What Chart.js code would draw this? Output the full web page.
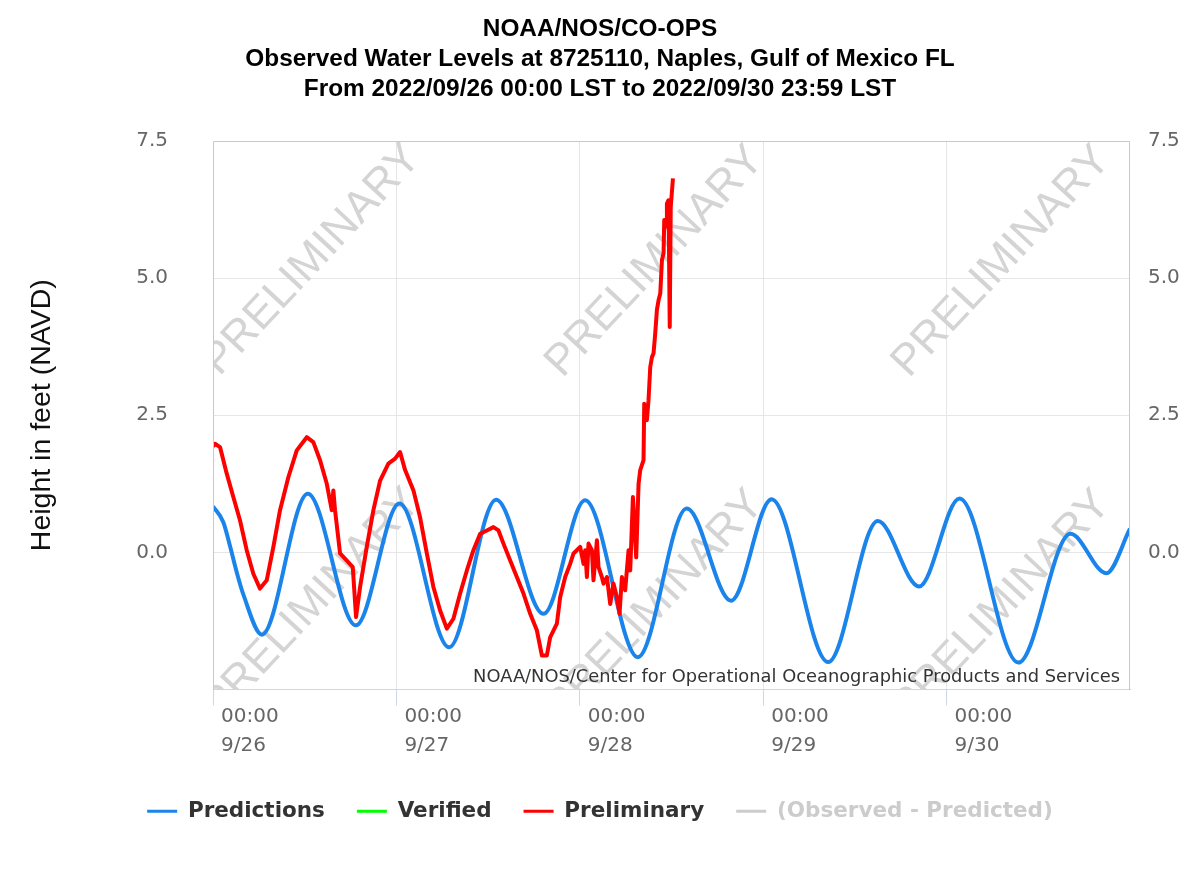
<!DOCTYPE html>
<html><head><meta charset="utf-8">
<script src="https://cdn.jsdelivr.net/npm/chart.js@4.4.1/dist/chart.umd.min.js"></script>
<style>html,body{margin:0;padding:0;background:#fff;}#wrap{width:1200px;height:874px;}</style>
</head><body><div id="wrap"><canvas id="c" width="1200" height="874"></canvas></div>
<script>
const titleLines = ['NOAA/NOS/CO-OPS', 'Observed Water Levels at 8725110, Naples, Gulf of Mexico FL', 'From 2022/09/26 00:00 LST to 2022/09/30 23:59 LST'];
const seriesNames = ['Predictions', 'Verified', 'Preliminary', '(Observed - Predicted)'];
const dayTickHours = [0, 24, 48, 72, 96];
const dayTickLabels = [['00:00', '9/26'], ['00:00', '9/27'], ['00:00', '9/28'], ['00:00', '9/29'], ['00:00', '9/30']];
const yTickValues = [-2.5, 0, 2.5, 5, 7.5];
const creditText = 'NOAA/NOS/Center for Operational Oceanographic Products and Services';
const watermarkText = 'PRELIMINARY';

// hours since 2022/09/26 00:00 LST
const predHours = [0, 1.35, 2.2, 3.1, 4.0, 6.4, 12.4, 18.7, 24.4, 30.9, 37.05, 43.25, 48.7, 55.6, 62.0, 67.8, 73.1, 80.5, 87.0, 92.4, 97.7, 105.4, 112.2, 116.9, 120];
const predValues = [0.84, 0.55, 0.13, -0.36, -0.78, -1.50, 1.07, -1.33, 0.89, -1.73, 0.96, -1.12, 0.95, -1.91, 0.80, -0.88, 0.97, -2.00, 0.57, -0.62, 0.98, -2.01, 0.34, -0.38, 0.43];

const prelimHours = [0, 0.26, 0.92, 1.79, 2.66, 3.54, 4.41, 5.28, 6.15, 7.03,
  7.9, 8.77, 9.86, 10.96, 12.27, 13.13, 14.01, 14.89, 15.54, 15.75,
  15.97, 16.63, 17.51, 18.29, 18.72, 19.25, 20.12, 20.99, 21.87, 22.95,
  23.83, 24.48, 25.14, 26.23, 27.1, 27.98, 28.84, 29.72, 30.6, 31.46,
  32.34, 33.22, 34.08, 34.96, 35.84, 36.7, 37.36, 38.01, 38.89, 39.76,
  40.63, 41.51, 42.38, 43.04, 43.69, 44.12, 45.0, 45.43, 46.09, 46.74,
  47.18, 48.05, 48.49, 48.71, 48.93, 49.14, 49.58, 49.79, 50.24, 50.45,
  50.89, 51.1, 51.55, 51.98, 52.41, 52.86, 53.2, 53.51, 53.94, 54.38,
  54.6, 54.95, 55.38, 55.69, 55.91, 56.34, 56.43, 56.78, 56.99, 57.22,
  57.44, 57.65, 57.87, 58.09, 58.31, 58.53, 58.75, 58.96, 59.05, 59.31,
  59.4, 59.61, 59.77, 59.9, 60.19];
const prelimValues = [1.93, 1.98, 1.92, 1.44, 1.01, 0.58, 0.04, -0.39, -0.66, -0.51,
  0.10, 0.77, 1.37, 1.86, 2.10, 2.01, 1.68, 1.25, 0.77, 1.13,
  0.77, -0.02, -0.15, -0.27, -1.18, -0.63, 0.10, 0.77, 1.31, 1.62,
  1.71, 1.83, 1.50, 1.13, 0.64, -0.02, -0.63, -1.06, -1.39, -1.21,
  -0.75, -0.33, 0.04, 0.34, 0.40, 0.46, 0.40, 0.16, -0.15, -0.45,
  -0.75, -1.12, -1.42, -1.88, -1.88, -1.55, -1.30, -0.82, -0.45, -0.21,
  -0.02, 0.10, -0.21, 0.04, -0.45, 0.16, 0.04, -0.51, 0.22, -0.27,
  -0.45, -0.57, -0.45, -0.94, -0.57, -0.82, -1.12, -0.45, -0.69, 0.04,
  -0.33, 1.01, -0.09, 1.25, 1.50, 1.68, 2.71, 2.41, 2.77, 3.38,
  3.56, 3.63, 3.99, 4.42, 4.60, 4.72, 5.33, 5.45, 6.06, 5.94,
  6.36, 6.42, 4.11, 6.30, 6.82];

const verifiedHours = [];
const verifiedValues = [];
const diffHours = [];
const diffValues = [];

const toXY = (xs, ys) => xs.map((x, i) => ({x: x, y: ys[i]}));
const seriesColors = ['#1b84ea', '#00ff00', '#ff0000', '#cccccc'];

const wmPos = [[0.108, 0.217], [0.482, 0.22], [0.86, 0.22], [0.108, 0.845], [0.482, 0.848], [0.86, 0.848]];

const decorPlugin = {
  id: 'decor',
  beforeDatasetsDraw(chart) {
    const {ctx, chartArea: a} = chart;
    ctx.save();
    ctx.beginPath();
    ctx.rect(a.left, a.top, a.right - a.left, a.bottom - a.top);
    ctx.clip();
    ctx.font = '44px "Liberation Sans", Arial, sans-serif';
    ctx.fillStyle = '#d4d4d4';
    ctx.textAlign = 'center';
    ctx.textBaseline = 'middle';
    for (const [fx, fy] of wmPos) {
      ctx.save();
      ctx.translate(a.left + fx * (a.right - a.left), a.top + fy * (a.bottom - a.top));
      ctx.rotate(-47 * Math.PI / 180);
      ctx.fillText(watermarkText, 0, 0);
      ctx.restore();
    }
    ctx.restore();
  },
  afterDatasetsDraw(chart) {
    const {ctx, chartArea: a} = chart;
    ctx.save();
    ctx.font = '16px "DejaVu Sans", sans-serif';
    const w = ctx.measureText(creditText).width;
    const size = 16 * 647 / w;
    ctx.font = size.toFixed(2) + 'px "DejaVu Sans", sans-serif';
    ctx.fillStyle = '#333333';
    ctx.textAlign = 'right';
    ctx.textBaseline = 'middle';
    ctx.fillText(creditText, a.right - 10, a.bottom - 12);
    ctx.strokeStyle = '#c8c8c8';
    ctx.lineWidth = 1;
    ctx.beginPath();
    ctx.moveTo(Math.round(a.left) + 0.5, Math.round(a.bottom));
    ctx.lineTo(Math.round(a.left) + 0.5, Math.round(a.top) + 0.5);
    ctx.lineTo(Math.round(a.right) - 0.5, Math.round(a.top) + 0.5);
    ctx.lineTo(Math.round(a.right) - 0.5, Math.round(a.bottom));
    ctx.stroke();
    ctx.restore();
  }
};

const tickFont = {family: '"DejaVu Sans", sans-serif', size: 20};

new Chart(document.getElementById('c'), {
  type: 'line',
  data: {
    datasets: [
      {label: seriesNames[0], data: toXY(predHours, predValues), borderColor: seriesColors[0], backgroundColor: seriesColors[0], borderWidth: 4, pointRadius: 0, cubicInterpolationMode: 'monotone', order: 2},
      {label: seriesNames[1], data: toXY(verifiedHours, verifiedValues), borderColor: seriesColors[1], backgroundColor: seriesColors[1], borderWidth: 3, pointRadius: 0, order: 1},
      {label: seriesNames[2], data: toXY(prelimHours, prelimValues), borderColor: seriesColors[2], backgroundColor: seriesColors[2], borderWidth: 4, pointRadius: 0, tension: 0, borderJoinStyle: 'round', order: 0},
      {label: seriesNames[3], data: toXY(diffHours, diffValues), borderColor: seriesColors[3], backgroundColor: seriesColors[3], borderWidth: 3, pointRadius: 0, order: 3}
    ]
  },
  options: {
    responsive: false,
    animation: false,
    devicePixelRatio: 1,
    layout: {padding: {top: 0, left: 0, right: 0, bottom: 42}},
    scales: {
      x: {
        type: 'linear', min: 0, max: 120,
        afterBuildTicks: s => { s.ticks = dayTickHours.map(v => ({value: v})); },
        afterFit: s => { s.height = 79; },
        ticks: {
          autoSkip: false, maxRotation: 0, minRotation: 0, align: 'start', labelOffset: 8, padding: -3,
          color: '#666666', font: {family: '"DejaVu Sans", sans-serif', size: 20, lineHeight: 1.45},
          callback: v => { const i = dayTickHours.indexOf(v); return i >= 0 ? dayTickLabels[i] : ''; }
        },
        grid: {color: '#e6e6e6', tickColor: '#ccd6eb', tickLength: 16},
        border: {color: '#ccd6eb', width: 1}
      },
      y: {
        position: 'left', min: -2.5, max: 7.5,
        afterBuildTicks: s => { s.ticks = yTickValues.map(v => ({value: v})); },
        afterFit: s => { s.width = 213; },
        ticks: {padding: 45, color: '#666666', font: tickFont, callback: v => v < 0 ? '' : v.toFixed(1)},
        grid: {color: '#e6e6e6', drawTicks: false},
        border: {display: false},
        title: {display: true, text: 'Height in feet (NAVD)', color: '#111111', font: {family: '"Liberation Sans", Arial, sans-serif', size: 28.5}, padding: {top: 25, bottom: 0}}
      },
      y2: {
        position: 'right', min: -2.5, max: 7.5,
        afterBuildTicks: s => { s.ticks = yTickValues.map(v => ({value: v})); },
        afterFit: s => { s.width = 70; },
        ticks: {padding: 18, color: '#666666', font: tickFont, callback: v => v < 0 ? '' : v.toFixed(1)},
        grid: {display: false, drawTicks: false},
        border: {display: false}
      }
    },
    plugins: {
      title: {
        display: true, text: titleLines, color: '#000000',
        font: {family: '"Liberation Sans", Arial, sans-serif', size: 24.4, weight: 'bold', lineHeight: 30 / 24.4},
        padding: {top: 14, bottom: 37}
      },
      legend: {
        position: 'bottom',
        labels: {
          boxWidth: 30, boxHeight: 3, padding: 32,
          font: {family: '"DejaVu Sans", sans-serif', size: 21.5, weight: 'bold'},
          color: '#333333',
          generateLabels: chart => chart.data.datasets.map((ds, i) => ({
            text: ds.label, fillStyle: ds.borderColor, strokeStyle: ds.borderColor, lineWidth: 0,
            hidden: false, datasetIndex: i, fontColor: i === 3 ? '#cccccc' : '#333333'
          }))
        }
      },
      tooltip: {enabled: false}
    }
  },
  plugins: [decorPlugin]
});
</script></body></html>
